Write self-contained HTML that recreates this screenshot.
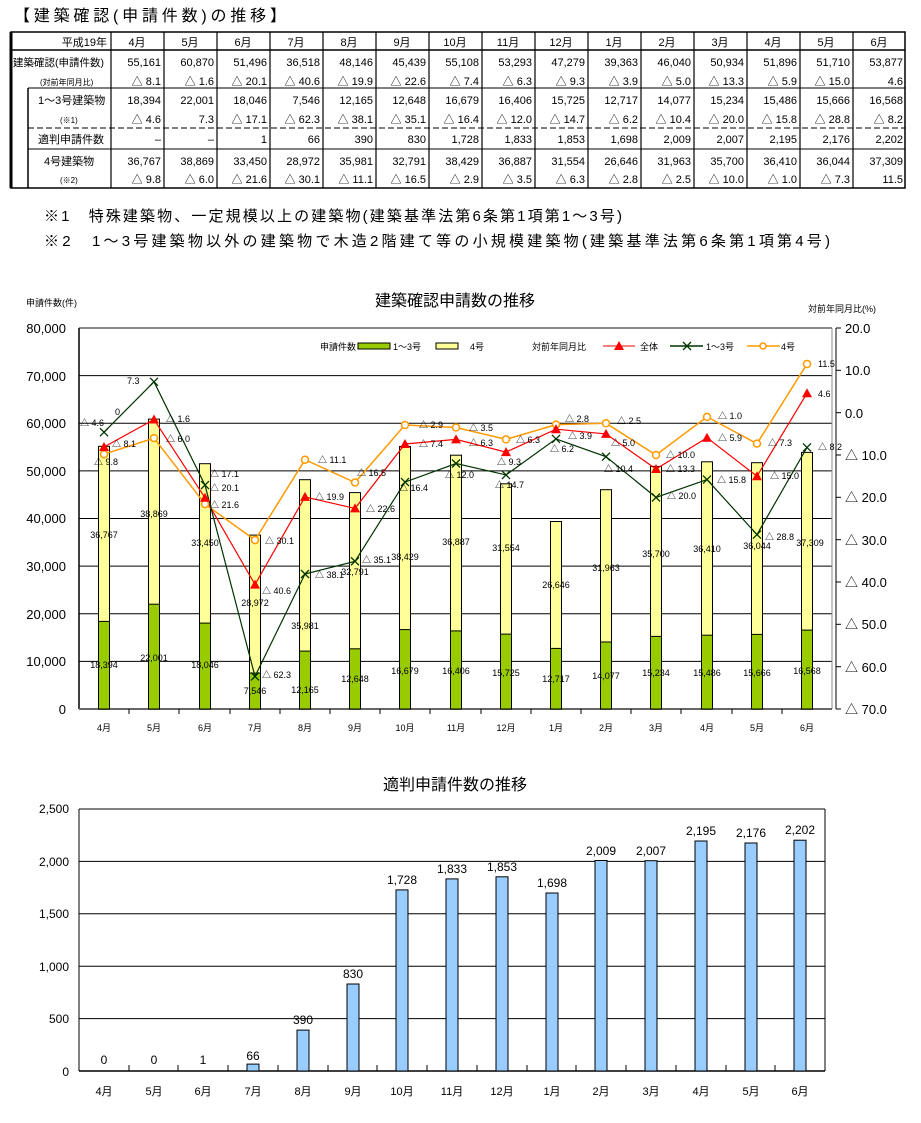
<!DOCTYPE html>
<html><head><meta charset="utf-8"><style>
body{margin:0;background:#fff;}
svg{display:block;font-family:"Liberation Sans","Noto Sans CJK JP",sans-serif;}
</style></head><body>
<svg width="921" height="1123" viewBox="0 0 921 1123" xmlns="http://www.w3.org/2000/svg">
<rect width="921" height="1123" fill="#fff"/>
<!-- TITLE -->
<text x="14" y="21" font-size="16" textLength="272" lengthAdjust="spacing">【建築確認(申請件数)の推移】</text>
<!-- TABLE -->
<g stroke="#000" fill="none">
<rect x="11" y="32" width="894" height="156" stroke-width="1.5"/>
<line x1="11" y1="32" x2="11" y2="188" stroke-width="3"/>
<line x1="11" y1="50" x2="905" y2="50" stroke-width="1.5"/>
<line x1="28" y1="88" x2="905" y2="88"/>
<line x1="28" y1="128" x2="905" y2="128" stroke-dasharray="6,3"/>
<line x1="28" y1="149" x2="905" y2="149"/>
<line x1="28" y1="88" x2="28" y2="188" stroke-width="1.5"/>
<g stroke-width="1.2">
<line x1="111" y1="32" x2="111" y2="188"/><line x1="164" y1="32" x2="164" y2="188"/><line x1="217" y1="32" x2="217" y2="188"/><line x1="270" y1="32" x2="270" y2="188"/><line x1="323" y1="32" x2="323" y2="188"/><line x1="376" y1="32" x2="376" y2="188"/><line x1="429" y1="32" x2="429" y2="188"/><line x1="482" y1="32" x2="482" y2="188"/><line x1="535" y1="32" x2="535" y2="188"/><line x1="588" y1="32" x2="588" y2="188"/><line x1="641" y1="32" x2="641" y2="188"/><line x1="694" y1="32" x2="694" y2="188"/><line x1="747" y1="32" x2="747" y2="188"/><line x1="800" y1="32" x2="800" y2="188"/><line x1="853" y1="32" x2="853" y2="188"/>
</g></g>
<g font-size="11" fill="#000">
<text x="107" y="46" text-anchor="end">平成19年</text>
<g text-anchor="middle"><text x="137" y="46">4月</text><text x="190" y="46">5月</text><text x="243" y="46">6月</text><text x="296" y="46">7月</text><text x="349" y="46">8月</text><text x="402" y="46">9月</text><text x="455" y="46">10月</text><text x="508" y="46">11月</text><text x="561" y="46">12月</text><text x="614" y="46">1月</text><text x="667" y="46">2月</text><text x="720" y="46">3月</text><text x="773" y="46">4月</text><text x="826" y="46">5月</text><text x="879" y="46">6月</text></g>
<text x="13" y="66" font-size="10.5">建築確認(申請件数)</text>
<text x="40" y="85" font-size="8">(対前年同月比)</text>
<text x="38" y="104">1～3号建築物</text>
<text x="60" y="123" font-size="8">(※1)</text>
<text x="38" y="143">適判申請件数</text>
<text x="44" y="165">4号建築物</text>
<text x="60" y="183" font-size="8">(※2)</text>
<g text-anchor="end">
<text x="161" y="66">55,161</text><text x="214" y="66">60,870</text><text x="267" y="66">51,496</text><text x="320" y="66">36,518</text><text x="373" y="66">48,146</text><text x="426" y="66">45,439</text><text x="479" y="66">55,108</text><text x="532" y="66">53,293</text><text x="585" y="66">47,279</text><text x="638" y="66">39,363</text><text x="691" y="66">46,040</text><text x="744" y="66">50,934</text><text x="797" y="66">51,896</text><text x="850" y="66">51,710</text><text x="903" y="66">53,877</text>
<text x="161" y="85">△ 8.1</text><text x="214" y="85">△ 1.6</text><text x="267" y="85">△ 20.1</text><text x="320" y="85">△ 40.6</text><text x="373" y="85">△ 19.9</text><text x="426" y="85">△ 22.6</text><text x="479" y="85">△ 7.4</text><text x="532" y="85">△ 6.3</text><text x="585" y="85">△ 9.3</text><text x="638" y="85">△ 3.9</text><text x="691" y="85">△ 5.0</text><text x="744" y="85">△ 13.3</text><text x="797" y="85">△ 5.9</text><text x="850" y="85">△ 15.0</text><text x="903" y="85">4.6</text>
<text x="161" y="104">18,394</text><text x="214" y="104">22,001</text><text x="267" y="104">18,046</text><text x="320" y="104">7,546</text><text x="373" y="104">12,165</text><text x="426" y="104">12,648</text><text x="479" y="104">16,679</text><text x="532" y="104">16,406</text><text x="585" y="104">15,725</text><text x="638" y="104">12,717</text><text x="691" y="104">14,077</text><text x="744" y="104">15,234</text><text x="797" y="104">15,486</text><text x="850" y="104">15,666</text><text x="903" y="104">16,568</text>
<text x="161" y="123">△ 4.6</text><text x="214" y="123">7.3</text><text x="267" y="123">△ 17.1</text><text x="320" y="123">△ 62.3</text><text x="373" y="123">△ 38.1</text><text x="426" y="123">△ 35.1</text><text x="479" y="123">△ 16.4</text><text x="532" y="123">△ 12.0</text><text x="585" y="123">△ 14.7</text><text x="638" y="123">△ 6.2</text><text x="691" y="123">△ 10.4</text><text x="744" y="123">△ 20.0</text><text x="797" y="123">△ 15.8</text><text x="850" y="123">△ 28.8</text><text x="903" y="123">△ 8.2</text>
<text x="161" y="143">–</text><text x="214" y="143">–</text><text x="267" y="143">1</text><text x="320" y="143">66</text><text x="373" y="143">390</text><text x="426" y="143">830</text><text x="479" y="143">1,728</text><text x="532" y="143">1,833</text><text x="585" y="143">1,853</text><text x="638" y="143">1,698</text><text x="691" y="143">2,009</text><text x="744" y="143">2,007</text><text x="797" y="143">2,195</text><text x="850" y="143">2,176</text><text x="903" y="143">2,202</text>
<text x="161" y="165">36,767</text><text x="214" y="165">38,869</text><text x="267" y="165">33,450</text><text x="320" y="165">28,972</text><text x="373" y="165">35,981</text><text x="426" y="165">32,791</text><text x="479" y="165">38,429</text><text x="532" y="165">36,887</text><text x="585" y="165">31,554</text><text x="638" y="165">26,646</text><text x="691" y="165">31,963</text><text x="744" y="165">35,700</text><text x="797" y="165">36,410</text><text x="850" y="165">36,044</text><text x="903" y="165">37,309</text>
<text x="161" y="183">△ 9.8</text><text x="214" y="183">△ 6.0</text><text x="267" y="183">△ 21.6</text><text x="320" y="183">△ 30.1</text><text x="373" y="183">△ 11.1</text><text x="426" y="183">△ 16.5</text><text x="479" y="183">△ 2.9</text><text x="532" y="183">△ 3.5</text><text x="585" y="183">△ 6.3</text><text x="638" y="183">△ 2.8</text><text x="691" y="183">△ 2.5</text><text x="744" y="183">△ 10.0</text><text x="797" y="183">△ 1.0</text><text x="850" y="183">△ 7.3</text><text x="903" y="183">11.5</text>
</g></g>
<text x="44" y="221" font-size="15" textLength="578" lengthAdjust="spacing">※1　特殊建築物、一定規模以上の建築物(建築基準法第6条第1項第1～3号)</text>
<text x="44" y="246" font-size="15" textLength="786" lengthAdjust="spacing">※2　1～3号建築物以外の建築物で木造2階建て等の小規模建築物(建築基準法第6条第1項第4号)</text>

<!-- CHART 1 -->
<text x="455" y="306" font-size="16" text-anchor="middle">建築確認申請数の推移</text>
<text x="26" y="306" font-size="9">申請件数(件)</text>
<text x="808" y="312" font-size="9">対前年同月比(%)</text>
<g stroke="#000" stroke-width="1">
<line x1="79" y1="375.6" x2="832" y2="375.6"/><line x1="79" y1="423.3" x2="832" y2="423.3"/><line x1="79" y1="470.9" x2="832" y2="470.9"/><line x1="79" y1="518.5" x2="832" y2="518.5"/><line x1="79" y1="566.1" x2="832" y2="566.1"/><line x1="79" y1="613.8" x2="832" y2="613.8"/><line x1="79" y1="661.4" x2="832" y2="661.4"/>
</g>
<line x1="79" y1="328" x2="832" y2="328" stroke="#888" stroke-width="2"/>
<line x1="832" y1="328" x2="832" y2="709" stroke="#888" stroke-width="1"/>
<line x1="79" y1="328" x2="79" y2="709" stroke="#000" stroke-width="1.5"/>
<line x1="79" y1="709" x2="832" y2="709" stroke="#666" stroke-width="2"/>
<line x1="836" y1="328" x2="836" y2="709" stroke="#000"/>
<g stroke="#000"><line x1="836" y1="328" x2="841" y2="328"/><line x1="836" y1="370.3" x2="841" y2="370.3"/><line x1="836" y1="412.7" x2="841" y2="412.7"/><line x1="836" y1="455" x2="841" y2="455"/><line x1="836" y1="497.3" x2="841" y2="497.3"/><line x1="836" y1="539.7" x2="841" y2="539.7"/><line x1="836" y1="582" x2="841" y2="582"/><line x1="836" y1="624.3" x2="841" y2="624.3"/><line x1="836" y1="666.7" x2="841" y2="666.7"/><line x1="836" y1="709" x2="841" y2="709"/>
<line x1="129" y1="709" x2="129" y2="714"/><line x1="179" y1="709" x2="179" y2="714"/><line x1="230" y1="709" x2="230" y2="714"/><line x1="280" y1="709" x2="280" y2="714"/><line x1="330" y1="709" x2="330" y2="714"/><line x1="380" y1="709" x2="380" y2="714"/><line x1="430" y1="709" x2="430" y2="714"/><line x1="481" y1="709" x2="481" y2="714"/><line x1="531" y1="709" x2="531" y2="714"/><line x1="581" y1="709" x2="581" y2="714"/><line x1="631" y1="709" x2="631" y2="714"/><line x1="681" y1="709" x2="681" y2="714"/><line x1="732" y1="709" x2="732" y2="714"/><line x1="782" y1="709" x2="782" y2="714"/></g>
<g font-size="13" text-anchor="end">
<text x="66" y="333">80,000</text><text x="66" y="381">70,000</text><text x="66" y="428">60,000</text><text x="66" y="476">50,000</text><text x="66" y="523">40,000</text><text x="66" y="571">30,000</text><text x="66" y="619">20,000</text><text x="66" y="666">10,000</text><text x="66" y="714">0</text>
</g>
<g font-size="13">
<text x="845" y="333">20.0</text><text x="845" y="375">10.0</text><text x="845" y="418">0.0</text><text x="845" y="460">△ 10.0</text><text x="845" y="502">△ 20.0</text><text x="845" y="545">△ 30.0</text><text x="845" y="587">△ 40.0</text><text x="845" y="629">△ 50.0</text><text x="845" y="672">△ 60.0</text><text x="845" y="714">△ 70.0</text>
</g>
<!-- bars -->
<g stroke="#000" stroke-width="1" fill="#ffff99">
<rect x="98.5" y="446.3" width="11" height="262.7"/><rect x="148.5" y="419.1" width="11" height="289.9"/><rect x="199.5" y="463.7" width="11" height="245.3"/><rect x="249.5" y="535.1" width="11" height="173.9"/><rect x="299.5" y="479.7" width="11" height="229.3"/><rect x="349.5" y="492.6" width="11" height="216.4"/><rect x="399.5" y="446.5" width="11" height="262.5"/><rect x="450.5" y="455.2" width="11" height="253.8"/><rect x="500.5" y="483.8" width="11" height="225.2"/><rect x="550.5" y="521.5" width="11" height="187.5"/><rect x="600.5" y="489.7" width="11" height="219.3"/><rect x="650.5" y="466.4" width="11" height="242.6"/><rect x="701.5" y="461.8" width="11" height="247.2"/><rect x="751.5" y="462.7" width="11" height="246.3"/><rect x="801.5" y="452.4" width="11" height="256.6"/>
</g>
<g stroke="#000" stroke-width="1" fill="#99cc00">
<rect x="98.5" y="621.4" width="11" height="87.6"/><rect x="148.5" y="604.2" width="11" height="104.8"/><rect x="199.5" y="623.1" width="11" height="85.9"/><rect x="249.5" y="673.1" width="11" height="35.9"/><rect x="299.5" y="651.1" width="11" height="57.9"/><rect x="349.5" y="648.8" width="11" height="60.2"/><rect x="399.5" y="629.6" width="11" height="79.4"/><rect x="450.5" y="630.9" width="11" height="78.1"/><rect x="500.5" y="634.1" width="11" height="74.9"/><rect x="550.5" y="648.4" width="11" height="60.6"/><rect x="600.5" y="642" width="11" height="67"/><rect x="650.5" y="636.4" width="11" height="72.6"/><rect x="701.5" y="635.2" width="11" height="73.8"/><rect x="751.5" y="634.4" width="11" height="74.6"/><rect x="801.5" y="630.1" width="11" height="78.9"/>
</g>
<!-- bar labels -->
<g font-size="9" text-anchor="middle">
<text x="104" y="668">18,394</text><text x="154" y="661">22,001</text><text x="205" y="668">18,046</text><text x="255" y="694">7,546</text><text x="305" y="693">12,165</text><text x="355" y="682">12,648</text><text x="405" y="674">16,679</text><text x="456" y="674">16,406</text><text x="506" y="676">15,725</text><text x="556" y="682">12,717</text><text x="606" y="679">14,077</text><text x="656" y="676">15,234</text><text x="707" y="676">15,486</text><text x="757" y="676">15,666</text><text x="807" y="674">16,568</text>
<text x="104" y="538">36,767</text><text x="154" y="517">38,869</text><text x="205" y="546">33,450</text><text x="255" y="606">28,972</text><text x="305" y="629">35,981</text><text x="355" y="575">32,791</text><text x="405" y="560">38,429</text><text x="456" y="545">36,887</text><text x="506" y="551">31,554</text><text x="556" y="588">26,646</text><text x="606" y="571">31,963</text><text x="656" y="557">35,700</text><text x="707" y="552">36,410</text><text x="757" y="549">36,044</text><text x="810" y="546">37,309</text>
</g>
<!-- lines -->
<polyline fill="none" stroke="#ff9900" stroke-width="1.5" points="104,454.2 154,438.1 205,504.1 255,540.1 305,459.7 355,482.5 405,425 456,427.5 506,439.4 556,424.6 606,423.3 656,455 707,416.9 757,443.6 807,364"/>
<polyline fill="none" stroke="#ff0000" stroke-width="1.2" points="104,447 154,419.5 205,497.8 255,584.6 305,496.9 355,508.4 405,444 456,439.4 506,452.1 556,429.2 606,433.9 656,469 707,437.7 757,476.2 807,393.2"/>
<polyline fill="none" stroke="#003300" stroke-width="1.2" points="104,432.2 154,381.8 205,485.1 255,676.4 305,574 355,561.3 405,482.1 456,463.5 506,474.9 556,438.9 606,456.7 656,497.4 707,479.6 757,534.6 807,447.4"/>
<g fill="#fff" stroke="#ff9900" stroke-width="1.5">
<circle cx="104" cy="454.2" r="3.5"/><circle cx="154" cy="438.1" r="3.5"/><circle cx="205" cy="504.1" r="3.5"/><circle cx="255" cy="540.1" r="3.5"/><circle cx="305" cy="459.7" r="3.5"/><circle cx="355" cy="482.5" r="3.5"/><circle cx="405" cy="425" r="3.5"/><circle cx="456" cy="427.5" r="3.5"/><circle cx="506" cy="439.4" r="3.5"/><circle cx="556" cy="424.6" r="3.5"/><circle cx="606" cy="423.3" r="3.5"/><circle cx="656" cy="455" r="3.5"/><circle cx="707" cy="416.9" r="3.5"/><circle cx="757" cy="443.6" r="3.5"/><circle cx="807" cy="364" r="3.5"/>
</g>
<g fill="#ff0000">
<path d="M104,442 l-5,9 h10z"/><path d="M154,414.5 l-5,9 h10z"/><path d="M205,492.8 l-5,9 h10z"/><path d="M255,579.6 l-5,9 h10z"/><path d="M305,491.9 l-5,9 h10z"/><path d="M355,503.4 l-5,9 h10z"/><path d="M405,439 l-5,9 h10z"/><path d="M456,434.4 l-5,9 h10z"/><path d="M506,447.1 l-5,9 h10z"/><path d="M556,424.2 l-5,9 h10z"/><path d="M606,428.9 l-5,9 h10z"/><path d="M656,464 l-5,9 h10z"/><path d="M707,432.7 l-5,9 h10z"/><path d="M757,471.2 l-5,9 h10z"/><path d="M807,388.2 l-5,9 h10z"/>
</g>
<g stroke="#003300" stroke-width="1.3">
<path d="M100,428.2 l8,8 M108,428.2 l-8,8"/><path d="M150,377.8 l8,8 M158,377.8 l-8,8"/><path d="M201,481.1 l8,8 M209,481.1 l-8,8"/><path d="M251,672.4 l8,8 M259,672.4 l-8,8"/><path d="M301,570 l8,8 M309,570 l-8,8"/><path d="M351,557.3 l8,8 M359,557.3 l-8,8"/><path d="M401,478.1 l8,8 M409,478.1 l-8,8"/><path d="M452,459.5 l8,8 M460,459.5 l-8,8"/><path d="M502,470.9 l8,8 M510,470.9 l-8,8"/><path d="M552,434.9 l8,8 M560,434.9 l-8,8"/><path d="M602,452.7 l8,8 M610,452.7 l-8,8"/><path d="M652,493.4 l8,8 M660,493.4 l-8,8"/><path d="M703,475.6 l8,8 M711,475.6 l-8,8"/><path d="M753,530.6 l8,8 M761,530.6 l-8,8"/><path d="M803,443.4 l8,8 M811,443.4 l-8,8"/>
</g>
<!-- ratio labels -->
<g font-size="9">
<text x="80" y="426">△ 4.6</text><text x="115" y="415">0</text><text x="112" y="447">△ 8.1</text><text x="94" y="465">△ 9.8</text>
<text x="127" y="384">7.3</text><text x="166" y="422">△ 1.6</text><text x="166" y="442">△ 6.0</text>
<text x="210" y="477">△ 17.1</text><text x="210" y="491">△ 20.1</text><text x="210" y="508">△ 21.6</text>
<text x="265" y="544">△ 30.1</text><text x="262" y="594">△ 40.6</text><text x="262" y="678">△ 62.3</text>
<text x="318" y="463">△ 11.1</text><text x="315" y="500">△ 19.9</text><text x="315" y="578">△ 38.1</text>
<text x="357" y="476">△ 16.5</text><text x="366" y="512">△ 22.6</text><text x="362" y="563">△ 35.1</text>
<text x="419" y="428">△ 2.9</text><text x="419" y="447">△ 7.4</text><text x="399" y="491">△ 16.4</text>
<text x="469" y="431">△ 3.5</text><text x="469" y="446">△ 6.3</text><text x="445" y="478">△ 12.0</text>
<text x="516" y="443">△ 6.3</text><text x="497" y="465">△ 9.3</text><text x="495" y="488">△ 14.7</text>
<text x="565" y="422">△ 2.8</text><text x="568" y="439">△ 3.9</text><text x="550" y="452">△ 6.2</text>
<text x="617" y="424">△ 2.5</text><text x="611" y="446">△ 5.0</text><text x="604" y="472">△ 10.4</text>
<text x="666" y="458">△ 10.0</text><text x="666" y="472">△ 13.3</text><text x="667" y="499">△ 20.0</text>
<text x="718" y="419">△ 1.0</text><text x="718" y="441">△ 5.9</text><text x="717" y="483">△ 15.8</text>
<text x="768" y="446">△ 7.3</text><text x="770" y="479">△ 15.0</text><text x="765" y="540">△ 28.8</text>
<text x="818" y="367">11.5</text><text x="818" y="397">4.6</text><text x="818" y="450">△ 8.2</text>
</g>
<!-- legend -->
<g font-size="9">
<text x="320" y="350">申請件数</text>
<rect x="358" y="343" width="32" height="6" fill="#99cc00" stroke="#000"/>
<text x="393" y="350">1～3号</text>
<rect x="436" y="343" width="22" height="6" fill="#ffff99" stroke="#000"/>
<text x="470" y="350">4号</text>
<text x="532" y="350">対前年同月比</text>
<line x1="603" y1="346" x2="635" y2="346" stroke="#ff0000"/><path d="M619,341 l-5,9 h10z" fill="#ff0000"/>
<text x="640" y="350">全体</text>
<line x1="670" y1="346" x2="703" y2="346" stroke="#003300" stroke-width="1.5"/><path d="M683,342 l8,8 M691,342 l-8,8" stroke="#003300" stroke-width="1.3"/>
<text x="706" y="350">1～3号</text>
<line x1="747" y1="346" x2="780" y2="346" stroke="#ff9900" stroke-width="1.5"/><circle cx="763" cy="346" r="3" fill="#fff" stroke="#ff9900" stroke-width="1.5"/>
<text x="781" y="350">4号</text>
</g>
<g font-size="9" text-anchor="middle">
<text x="104" y="731">4月</text><text x="154" y="731">5月</text><text x="205" y="731">6月</text><text x="255" y="731">7月</text><text x="305" y="731">8月</text><text x="355" y="731">9月</text><text x="405" y="731">10月</text><text x="456" y="731">11月</text><text x="506" y="731">12月</text><text x="556" y="731">1月</text><text x="606" y="731">2月</text><text x="656" y="731">3月</text><text x="707" y="731">4月</text><text x="757" y="731">5月</text><text x="807" y="731">6月</text>
</g>

<!-- CHART 2 -->
<text x="455" y="790" font-size="16" text-anchor="middle">適判申請件数の推移</text>
<g stroke="#000" stroke-width="1">
<line x1="79" y1="809" x2="825" y2="809"/><line x1="79" y1="861.4" x2="825" y2="861.4"/><line x1="79" y1="913.8" x2="825" y2="913.8"/><line x1="79" y1="966.2" x2="825" y2="966.2"/><line x1="79" y1="1018.6" x2="825" y2="1018.6"/>
<line x1="79" y1="809" x2="79" y2="1071"/><line x1="825" y1="809" x2="825" y2="1071"/>
<line x1="79" y1="1071" x2="825" y2="1071" stroke-width="1.5"/>
<line x1="129" y1="1071" x2="129" y2="1065"/><line x1="178" y1="1071" x2="178" y2="1065"/><line x1="228" y1="1071" x2="228" y2="1065"/><line x1="278" y1="1071" x2="278" y2="1065"/><line x1="328" y1="1071" x2="328" y2="1065"/><line x1="377" y1="1071" x2="377" y2="1065"/><line x1="427" y1="1071" x2="427" y2="1065"/><line x1="477" y1="1071" x2="477" y2="1065"/><line x1="527" y1="1071" x2="527" y2="1065"/><line x1="576" y1="1071" x2="576" y2="1065"/><line x1="626" y1="1071" x2="626" y2="1065"/><line x1="676" y1="1071" x2="676" y2="1065"/><line x1="726" y1="1071" x2="726" y2="1065"/><line x1="775" y1="1071" x2="775" y2="1065"/>
</g>
<g fill="#99ccff" stroke="#000" stroke-width="1">
<rect x="247" y="1064.1" width="12" height="6.9"/><rect x="297" y="1030.1" width="12" height="40.9"/><rect x="347" y="984" width="12" height="87"/><rect x="396" y="889.9" width="12" height="181.1"/><rect x="446" y="878.9" width="12" height="192.1"/><rect x="496" y="876.8" width="12" height="194.2"/><rect x="546" y="893" width="12" height="178"/><rect x="595" y="860.5" width="12" height="210.5"/><rect x="645" y="860.7" width="12" height="210.3"/><rect x="695" y="841" width="12" height="230"/><rect x="745" y="843" width="12" height="228"/><rect x="794" y="840.2" width="12" height="230.8"/>
</g>
<g font-size="12" text-anchor="end">
<text x="69" y="813">2,500</text><text x="69" y="866">2,000</text><text x="69" y="918">1,500</text><text x="69" y="971">1,000</text><text x="69" y="1023">500</text><text x="69" y="1076">0</text>
</g>
<g font-size="12" text-anchor="middle">
<text x="104" y="1064">0</text><text x="154" y="1064">0</text><text x="203" y="1064">1</text><text x="253" y="1060">66</text><text x="303" y="1024">390</text><text x="353" y="978">830</text><text x="402" y="884">1,728</text><text x="452" y="873">1,833</text><text x="502" y="871">1,853</text><text x="552" y="887">1,698</text><text x="601" y="855">2,009</text><text x="651" y="855">2,007</text><text x="701" y="835">2,195</text><text x="751" y="837">2,176</text><text x="800" y="834">2,202</text>
</g>
<g font-size="11" text-anchor="middle">
<text x="104" y="1095">4月</text><text x="154" y="1095">5月</text><text x="203" y="1095">6月</text><text x="253" y="1095">7月</text><text x="303" y="1095">8月</text><text x="353" y="1095">9月</text><text x="402" y="1095">10月</text><text x="452" y="1095">11月</text><text x="502" y="1095">12月</text><text x="552" y="1095">1月</text><text x="601" y="1095">2月</text><text x="651" y="1095">3月</text><text x="701" y="1095">4月</text><text x="751" y="1095">5月</text><text x="800" y="1095">6月</text>
</g>
</svg>
</body></html>
